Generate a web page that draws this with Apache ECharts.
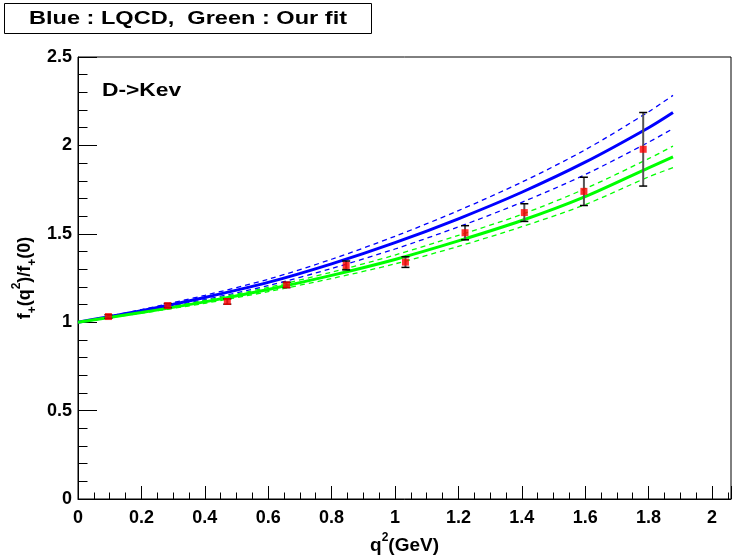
<!DOCTYPE html>
<html>
<head>
<meta charset="utf-8">
<script src="https://cdn.jsdelivr.net/npm/echarts@6/dist/echarts.min.js"></script>
<style>html,body{margin:0;padding:0;background:#fff}#c{width:733px;height:556px}</style>
</head>
<body>
<div id="c"></div>
<script>
// ---- data ----
const curveX = [0, 0.2, 0.4, 0.6, 0.8, 1.0, 1.2, 1.4, 1.6, 1.8, 1.877];
const lqcd   = [1, 1.065, 1.14, 1.225, 1.33, 1.45, 1.585, 1.735, 1.905, 2.10, 2.186];
const lqcdUp = [1, 1.071, 1.152, 1.243, 1.356, 1.486, 1.631, 1.792, 1.975, 2.19, 2.283];
const lqcdLo = [1, 1.059, 1.128, 1.207, 1.304, 1.414, 1.539, 1.678, 1.835, 2.018, 2.095];
const fit    = [1, 1.055, 1.115, 1.185, 1.265, 1.355, 1.46, 1.575, 1.71, 1.873, 1.935];
const fitUp  = [1, 1.059, 1.123, 1.197, 1.283, 1.38, 1.491, 1.61, 1.755, 1.925, 1.996];
const fitLo  = [1, 1.051, 1.107, 1.173, 1.247, 1.33, 1.429, 1.54, 1.665, 1.822, 1.874];

const qx    = [0.096, 0.283, 0.471, 0.658, 0.846, 1.033, 1.221, 1.408, 1.596, 1.783];
const ratio = [1.032, 1.094, 1.117, 1.211, 1.321, 1.340, 1.506, 1.620, 1.740, 1.978];
const err   = [0.010, 0.012, 0.015, 0.015, 0.025, 0.030, 0.040, 0.050, 0.080, 0.208];

const xTicks = [0, 0.2, 0.4, 0.6, 0.8, 1, 1.2, 1.4, 1.6, 1.8, 2];
const yTicks = [0, 0.5, 1, 1.5, 2, 2.5];

const titleText = 'Blue : LQCD,  Green : Our fit';
const decayText = 'D->Kev';

// ---- build ----
const FONT = '"Liberation Sans", Arial, Helvetica, sans-serif';
const BLUE = '#0000ff', GREEN = '#00ff00';
const pair = (xs, ys) => xs.map((x, i) => [x, ys[i]]);
const points = qx.map((x, i) => [x, ratio[i], err[i]]);

function fmtTick(list) {
  return function (v) {
    for (const t of list) if (Math.abs(v - t) < 1e-6) return String(t);
    return '';
  };
}

const chart = echarts.init(document.getElementById('c'), null, {renderer: 'canvas'});
const option = {
  animation: false,
  backgroundColor: '#fff',
  grid: {left: 78, right: 2, top: 57, bottom: 57, outerBoundsMode: 'none', containLabel: false,
         show: true, borderColor: '#000', borderWidth: 1, backgroundColor: 'transparent'},
  xAxis: {
    type: 'value', min: 0, max: 2.06, interval: 0.2,
    axisLine: {show: true, onZero: false, lineStyle: {color: '#000', width: 1}},
    axisTick: {show: true, inside: true, length: 13, lineStyle: {color: '#000', width: 1}},
    minorTick: {show: true, splitNumber: 4, length: 6.5, lineStyle: {color: '#000', width: 1}},
    splitLine: {show: false},
    axisLabel: {formatter: fmtTick(xTicks), color: '#000', fontFamily: FONT, fontWeight: 'bold', fontSize: 18, margin: 10},
    name: '{m|q}{p|2}{m|(GeV)}',
    nameLocation: 'middle', nameGap: 26,
    nameTextStyle: {
      rich: {
        m: {fontFamily: FONT, fontWeight: 'bold', fontSize: 19, color: '#000', lineHeight: 28, verticalAlign: 'middle'},
        p: {fontFamily: FONT, fontWeight: 'bold', fontSize: 12, color: '#000', lineHeight: 12, verticalAlign: 'top'}
      }
    }
  },
  yAxis: {
    type: 'value', min: 0, max: 2.5, interval: 0.5,
    axisLine: {show: true, onZero: false, lineStyle: {color: '#000', width: 1}},
    axisTick: {show: true, inside: true, length: 19, lineStyle: {color: '#000', width: 1}},
    minorTick: {show: true, splitNumber: 5, length: 9.5, lineStyle: {color: '#000', width: 1}},
    splitLine: {show: false},
    axisLabel: {formatter: fmtTick(yTicks), color: '#000', fontFamily: FONT, fontWeight: 'bold', fontSize: 18, margin: 6}
  },
  graphic: [
    {type: 'rect', shape: {x: 4.5, y: 3.5, width: 367, height: 30}, style: {fill: '#fff', stroke: '#000', lineWidth: 1}, z: 10},
    {type: 'text', x: 188, y: 19, scaleX: 1.24, z: 11, style: {text: titleText, fill: '#000', font: 'bold 19px ' + FONT, align: 'center', verticalAlign: 'middle'}},
    {type: 'text', x: 102, y: 91, scaleX: 1.2, z: 11, style: {text: decayText, fill: '#000', font: 'bold 19px ' + FONT, align: 'left', verticalAlign: 'middle'}},
    {type: 'text', x: 25, y: 278, rotation: Math.PI / 2, z: 11,
      style: {
        text: '{m|f}{s|+}{m|(q}{p|2}{m|)/f}{s|+}{m|(0)}',
        align: 'center', verticalAlign: 'middle',
        rich: {
          m: {fontFamily: FONT, fontWeight: 'bold', fontSize: 18, fill: '#000', lineHeight: 28, verticalAlign: 'middle'},
          s: {fontFamily: FONT, fontWeight: 'bold', fontSize: 12, fill: '#000', lineHeight: 12, verticalAlign: 'bottom'},
          p: {fontFamily: FONT, fontWeight: 'bold', fontSize: 12, fill: '#000', lineHeight: 12, verticalAlign: 'top'}
        }
      }
    }
  ],
  series: [
    {type: 'line', data: pair(curveX, lqcdUp), smooth: 0.3, symbol: 'none', lineStyle: {color: BLUE, width: 1.3, type: [5, 4]}, z: 2},
    {type: 'line', data: pair(curveX, lqcdLo), smooth: 0.3, symbol: 'none', lineStyle: {color: BLUE, width: 1.3, type: [5, 4]}, z: 2},
    {type: 'line', data: pair(curveX, fitUp), smooth: 0.3, symbol: 'none', lineStyle: {color: GREEN, width: 1.3, type: [5, 4]}, z: 2},
    {type: 'line', data: pair(curveX, fitLo), smooth: 0.3, symbol: 'none', lineStyle: {color: GREEN, width: 1.3, type: [5, 4]}, z: 2},
    {type: 'line', data: pair(curveX, lqcd), smooth: 0.3, symbol: 'none', lineStyle: {color: BLUE, width: 3}, z: 3},
    {type: 'line', data: pair(curveX, fit), smooth: 0.3, symbol: 'none', lineStyle: {color: GREEN, width: 3}, z: 3},
    {
      type: 'custom', data: points, z: 4,
      renderItem: function (params, api) {
        const x = api.value(0), y = api.value(1), e = api.value(2);
        const top = api.coord([x, y + e]);
        const bot = api.coord([x, y - e]);
        const cap = 4;
        return {
          type: 'group',
          children: [
            {type: 'line', shape: {x1: top[0], y1: top[1], x2: bot[0], y2: bot[1]}, style: {stroke: '#555', lineWidth: 2}},
            {type: 'line', shape: {x1: top[0] - cap, y1: top[1], x2: top[0] + cap, y2: top[1]}, style: {stroke: '#000', lineWidth: 1.5}},
            {type: 'line', shape: {x1: bot[0] - cap, y1: bot[1], x2: bot[0] + cap, y2: bot[1]}, style: {stroke: '#000', lineWidth: 1.5}}
          ]
        };
      }
    },
    {type: 'scatter', data: points.map(p => [p[0], p[1]]), symbol: 'rect', symbolSize: 7, itemStyle: {color: '#ff0000'}, z: 5}
  ]
};
chart.setOption(option);
</script>
</body>
</html>
